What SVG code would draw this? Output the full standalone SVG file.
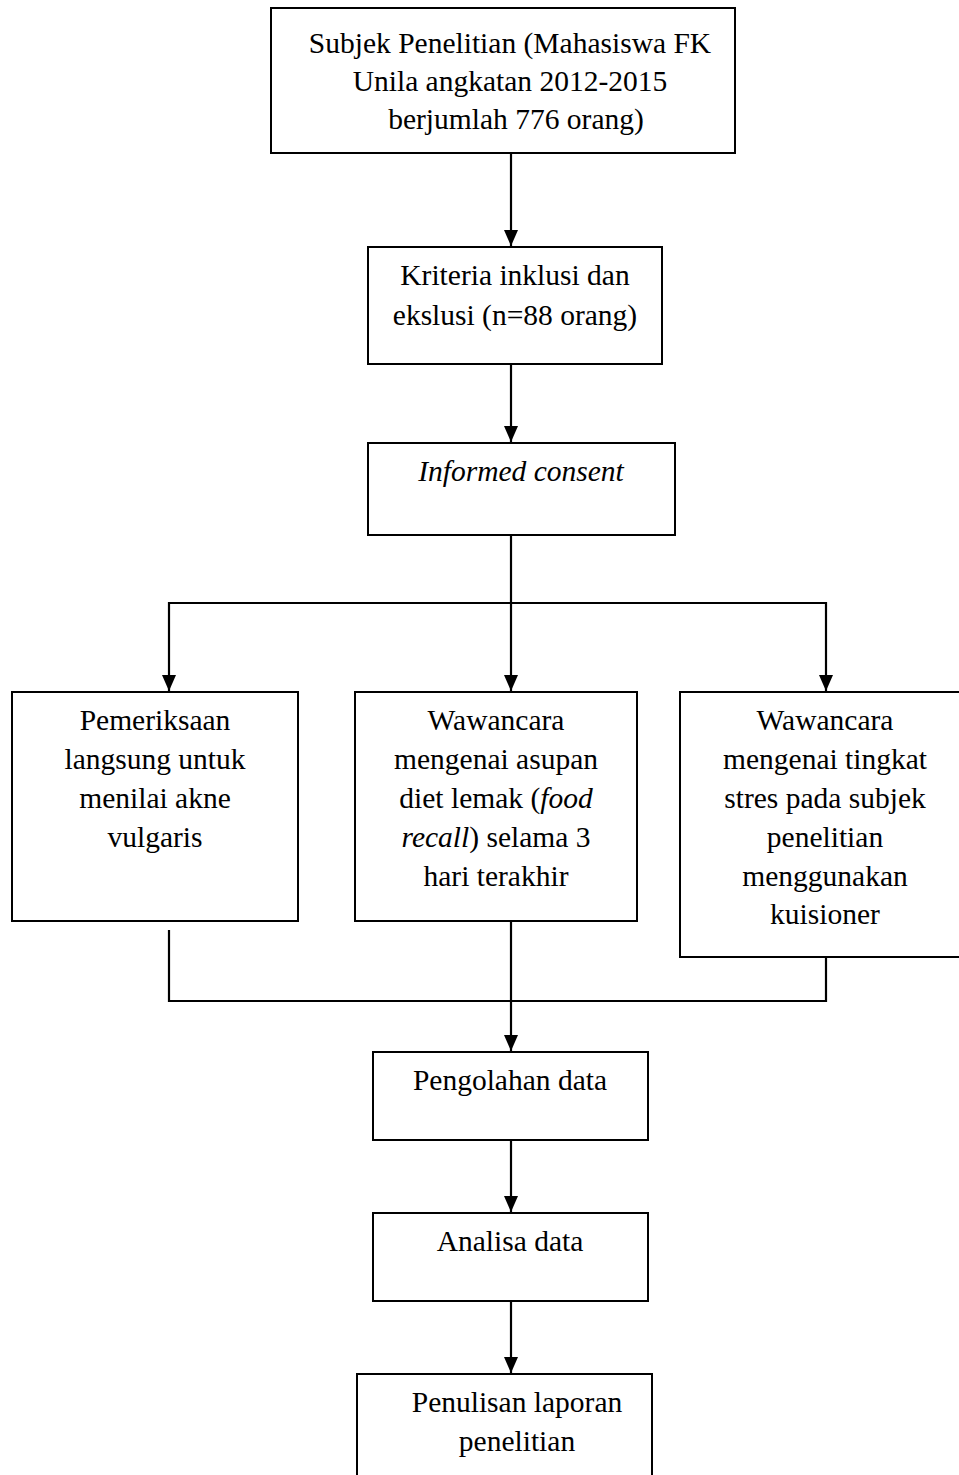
<svg xmlns="http://www.w3.org/2000/svg" width="959" height="1475" viewBox="0 0 959 1475">
<style>
.box{fill:#fff;stroke:#000;stroke-width:2}
.t{font-family:"Liberation Serif","Times New Roman",serif;font-size:29.5px;fill:#000;text-anchor:middle}
.i{font-style:italic}
.c{fill:none;stroke:#000;stroke-width:2.2}
</style>
<defs>
<marker id="ah" markerWidth="16" markerHeight="14" refX="16" refY="7" orient="auto" markerUnits="userSpaceOnUse" viewBox="0 0 16 14">
<path d="M0,0 L16,7 L0,14 Z" fill="#000"/>
</marker>
</defs>
<rect width="959" height="1475" fill="#fff"/>
<g id="connectors">
<path class="c" d="M511,153 V246" marker-end="url(#ah)"/>
<path class="c" d="M511,364 V442" marker-end="url(#ah)"/>
<path class="c" d="M511,535 V691" marker-end="url(#ah)"/>
<path class="c" d="M169,603 H826"/>
<path class="c" d="M169,602 V691" marker-end="url(#ah)"/>
<path class="c" d="M826,602 V691" marker-end="url(#ah)"/>
<path class="c" d="M169,930 V1001 H826 V957"/>
<path class="c" d="M511,921 V1051" marker-end="url(#ah)"/>
<path class="c" d="M511,1140 V1212" marker-end="url(#ah)"/>
<path class="c" d="M511,1301 V1373" marker-end="url(#ah)"/>
</g>
<g id="subjek">
<rect class="box" x="271" y="8" width="464" height="145"/>
<text class="t" x="510" y="53">Subjek Penelitian (Mahasiswa FK</text>
<text class="t" x="510" y="91">Unila angkatan 2012-2015</text>
<text class="t" x="516" y="129">berjumlah 776 orang)</text>
</g>
<g id="kriteria">
<rect class="box" x="368" y="247" width="294" height="117"/>
<text class="t" x="515" y="285">Kriteria inklusi dan</text>
<text class="t" x="515" y="325">ekslusi (n=88 orang)</text>
</g>
<g id="informed">
<rect class="box" x="368" y="443" width="307" height="92"/>
<text class="t i" x="521" y="481">Informed consent</text>
</g>
<g id="pemeriksaan">
<rect class="box" x="12" y="692" width="286" height="229"/>
<text class="t" x="155" y="730">Pemeriksaan</text>
<text class="t" x="155" y="769">langsung untuk</text>
<text class="t" x="155" y="808">menilai akne</text>
<text class="t" x="155" y="847">vulgaris</text>
</g>
<g id="wawancara-diet">
<rect class="box" x="355" y="692" width="282" height="229"/>
<text class="t" x="496" y="730">Wawancara</text>
<text class="t" x="496" y="769">mengenai asupan</text>
<text class="t" x="496" y="808">diet lemak (<tspan class="i">food</tspan></text>
<text class="t" x="496" y="847"><tspan class="i">recall</tspan>) selama 3</text>
<text class="t" x="496" y="886">hari terakhir</text>
</g>
<g id="wawancara-stres">
<rect class="box" x="680" y="692" width="290" height="265"/>
<text class="t" x="825" y="730">Wawancara</text>
<text class="t" x="825" y="769">mengenai tingkat</text>
<text class="t" x="825" y="808">stres pada subjek</text>
<text class="t" x="825" y="847">penelitian</text>
<text class="t" x="825" y="886">menggunakan</text>
<text class="t" x="825" y="924">kuisioner</text>
</g>
<g id="pengolahan">
<rect class="box" x="373" y="1052" width="275" height="88"/>
<text class="t" x="510" y="1090">Pengolahan data</text>
</g>
<g id="analisa">
<rect class="box" x="373" y="1213" width="275" height="88"/>
<text class="t" x="510" y="1251">Analisa data</text>
</g>
<g id="penulisan">
<rect class="box" x="357" y="1374" width="295" height="120"/>
<text class="t" x="517" y="1412">Penulisan laporan</text>
<text class="t" x="517" y="1451">penelitian</text>
</g>
</svg>
